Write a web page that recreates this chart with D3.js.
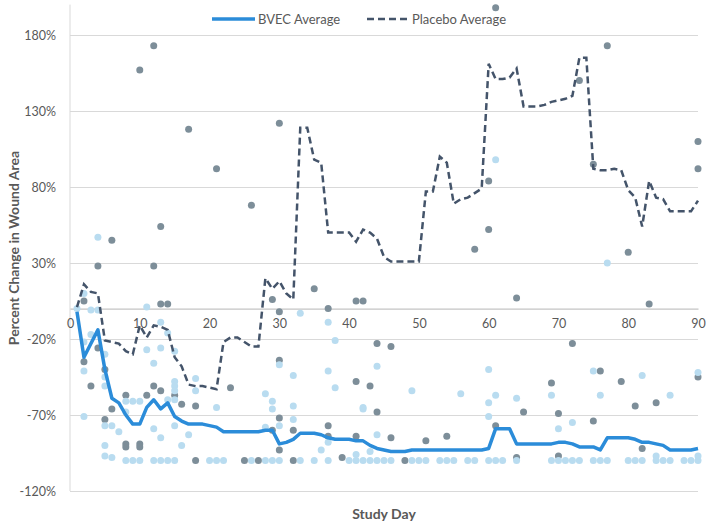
<!DOCTYPE html>
<html>
<head>
<meta charset="utf-8">
<script src="https://cdn.jsdelivr.net/npm/d3@7"></script>
<style>
  body { margin: 0; background: #fff; }
  text { font-family: Lato, "Open Sans", sans-serif; fill: #595959; }
</style>
</head>
<body>
<svg width="708" height="529"></svg>
<script>
const days = d3.range(1, 91);

const bvecAvg = [
  -2, -32, -23, -14, -40, -59, -62, -70, -76, -76,
  -65, -60, -66, -62, -71, -74, -76, -76, -76, -77,
  -78, -81, -81, -81, -81, -81, -81, -80, -80, -89,
  -88, -86, -82, -82, -82, -83, -85, -86, -86, -86,
  -87, -87, -90, -92, -93, -94, -94, -94, -93, -93,
  -93, -93, -93, -93, -93, -93, -93, -93, -93, -92,
  -79, -79, -79, -89, -89, -89, -89, -89, -89, -88,
  -88, -89, -91, -91, -91, -93, -85, -85, -85, -85,
  -86, -88, -88, -89, -90, -93, -93, -93, -93, -92
];

const placeboAvg = [
  1, 16, 11, 10, -21, -22, -23, -28, -30, -11,
  -19, -11, -12, -14, -32, -38, -50, -51, -51, -52,
  -53, -22, -19, -19, -22, -25, -25, 20, 13, 18,
  10, 6, 119, 119, 98, 96, 50, 50, 50, 50,
  44, 52, 50, 46, 34, 31, 31, 31, 31, 31,
  77, 77, 100, 96, 69, 72, 73, 76, 79, 161,
  151, 151, 152, 158, 133, 133, 133, 134, 136, 137,
  138, 140, 165, 165, 92, 91, 91, 92, 91, 78,
  73, 54, 84, 73, 72, 64, 64, 64, 64, 71
];

// individual placebo wounds [day, % change]
const placeboPts = [
  [10,157],[12,173],[17,118],[21,92],[26,68],[30,122],[13,54],[6,45],[4,28],[12,28],
  [61,198],[77,173],[73,150],[90,110],[90,92],[75,95],[60,84],[60,52],[58,39],[80,37],
  [2,5],[13,3],[14,3],[35,13],[29,6],[30,-2],[37,0],[41,5],
  [4,-26],[2,-35],[5,-40],[3,-51],[12,-51],[13,-54],[23,-52],[30,-34],[41,-48],
  [8,-57],[6,-66],[11,-57],[15,-57],[16,-63],[18,-64],[5,-73],[8,-89],[8,-91],[10,-89],[10,-91],
  [18,-100],[25,-100],[27,-100],[32,-100],[39,-98],
  [30,-72],[29,-80],[30,-93],[32,-80],[37,-77],[37,-84],[41,-84],
  [42,5],[64,7],[83,3],[44,-23],[46,-25],[43,-51],[44,-68],[46,-85],[48,-100],[51,-87],[54,-84],
  [61,-77],[65,-68],[64,-98],[69,-49],[70,-69],[70,-97],[72,-23],[76,-41],[75,-74],[79,-48],
  [81,-64],[84,-62],[82,-92],[90,-45]
];

// individual BVEC wounds [day, % change]
const bvecPts = [
  [4,47],[61,98],[77,30],
  [2,10],[1,0],[3,-1],[4,-1],[11,1],[33,-3],[37,-9],[38,-21],
  [13,-9],[14,-16],[3,-17],[2,-22],[11,-27],[5,-30],[13,-26],[15,-28],[12,-36],[2,-41],[5,-45],
  [5,-51],[15,-48],[15,-51],[15,-54],[18,-46],[18,-54],[30,-37],[32,-44],[37,-41],[38,-52],
  [8,-61],[9,-61],[10,-61],[14,-60],[15,-60],[21,-65],[2,-71],[5,-77],[6,-77],[8,-68],[7,-81],
  [12,-79],[13,-85],[15,-77],[17,-83],[16,-90],[5,-90],[5,-97],[6,-98],
  [28,-56],[29,-61],[29,-66],[30,-77],[28,-78],[32,-64],[32,-73],[37,-88],[36,-93],[42,-66],
  [44,-38],[42,-65],[44,-83],[49,-54],[56,-56],[43,-94],[41,-96],
  [60,-40],[61,-57],[60,-62],[60,-71],[64,-59],[69,-57],[70,-79],[72,-75],[75,-41],[76,-57],
  [82,-44],[86,-57],[84,-97],[90,-42],[90,-97],
  [8,-100],[9,-100],[10,-100],[12,-100],[13,-100],[14,-100],[15,-100],[20,-100],[21,-100],
  [22,-100],[26,-100],[28,-100],[29,-100],[30,-100],[33,-100],[35,-100],[37,-100],[40,-100],
  [41,-100],[42,-100],[43,-100],[44,-100],[45,-100],[46,-100],[49,-100],[50,-100],[51,-100],
  [53,-100],[54,-100],[55,-100],[57,-100],[58,-100],[60,-100],[61,-100],[62,-100],[64,-100],
  [69,-100],[70,-100],[71,-100],[72,-100],[73,-100],[75,-100],[76,-100],[77,-100],[80,-100],
  [81,-100],[82,-100],[84,-100],[85,-100],[86,-100],[88,-100],[89,-100],[90,-100]
];

const yTicks = [-120, -70, -20, 30, 80, 130, 180];
const xTicks = [0, 10, 20, 30, 40, 50, 60, 70, 80, 90];

const svg = d3.select('svg');

const x = d3.scaleLinear().domain([0, 90]).range([70, 698]);
const y = d3.scaleLinear().domain([-120, 200]).range([491, 4.6]);

// gridlines + y labels
const yAxis = svg.append('g')
    .attr('transform', `translate(${x(0)},0)`)
    .call(d3.axisLeft(y).tickValues(yTicks).tickSize(-(x(90) - x(0))).tickPadding(14)
      .tickFormat(d => d + '%'));
yAxis.select('.domain').remove();
yAxis.selectAll('line').attr('stroke', '#d9d9d9');
yAxis.selectAll('text').style('font-size', '12.5px').attr('fill', '#595959');

// vertical axis line
svg.append('line')
    .attr('x1', x(0)).attr('x2', x(0))
    .attr('y1', y(200)).attr('y2', y(-120))
    .attr('stroke', '#d9d9d9');

// zero axis with day labels
const xAxis = svg.append('g')
    .attr('transform', `translate(0,${y(0)})`)
    .call(d3.axisBottom(x).tickValues(xTicks).tickSize(0).tickPadding(11));
xAxis.select('.domain').attr('stroke', '#b5b5b5');
xAxis.selectAll('text').style('font-size', '12.5px').attr('fill', '#595959');

// dots
svg.append('g').selectAll('circle').data(placeboPts)
  .enter().append('circle')
    .attr('cx', d => x(d[0]))
    .attr('cy', d => y(d[1]))
    .attr('r', 3.5)
    .attr('fill', '#7d8e99');

svg.append('g').selectAll('circle').data(bvecPts)
  .enter().append('circle')
    .attr('cx', d => x(d[0]))
    .attr('cy', d => y(d[1]))
    .attr('r', 3.5)
    .attr('fill', '#b9dcf0');

// average lines
const line = d3.line().x((d, i) => x(days[i])).y(d => y(d));

svg.append('path')
    .datum(placeboAvg)
    .attr('d', line)
    .attr('fill', 'none')
    .attr('stroke', '#44546a')
    .attr('stroke-width', 2.5)
    .attr('stroke-dasharray', '7,4');

svg.append('path')
    .datum(bvecAvg)
    .attr('d', line)
    .attr('fill', 'none')
    .attr('stroke', '#2b8cd9')
    .attr('stroke-width', 3.5)
    .attr('stroke-linejoin', 'round');

// legend
const legend = svg.append('g');
legend.append('line')
    .attr('x1', 212).attr('x2', 255).attr('y1', 19).attr('y2', 19)
    .attr('stroke', '#2b8cd9').attr('stroke-width', 3.5);
legend.append('text')
    .attr('x', 258).attr('y', 23.5)
    .style('font-size', '13px')
    .text('BVEC Average');
legend.append('line')
    .attr('x1', 367).attr('x2', 409).attr('y1', 19).attr('y2', 19)
    .attr('stroke', '#44546a').attr('stroke-width', 2.5)
    .attr('stroke-dasharray', '7,4');
legend.append('text')
    .attr('x', 412).attr('y', 23.5)
    .style('font-size', '13px')
    .text('Placebo Average');

// axis titles
svg.append('text')
    .attr('transform', 'translate(19,248) rotate(-90)')
    .attr('text-anchor', 'middle')
    .style('font-size', '14px')
    .style('font-weight', 'bold')
    .text('Percent Change in Wound Area');

svg.append('text')
    .attr('x', 384).attr('y', 519)
    .attr('text-anchor', 'middle')
    .style('font-size', '14px')
    .style('font-weight', 'bold')
    .text('Study Day');
</script>
</body>
</html>
